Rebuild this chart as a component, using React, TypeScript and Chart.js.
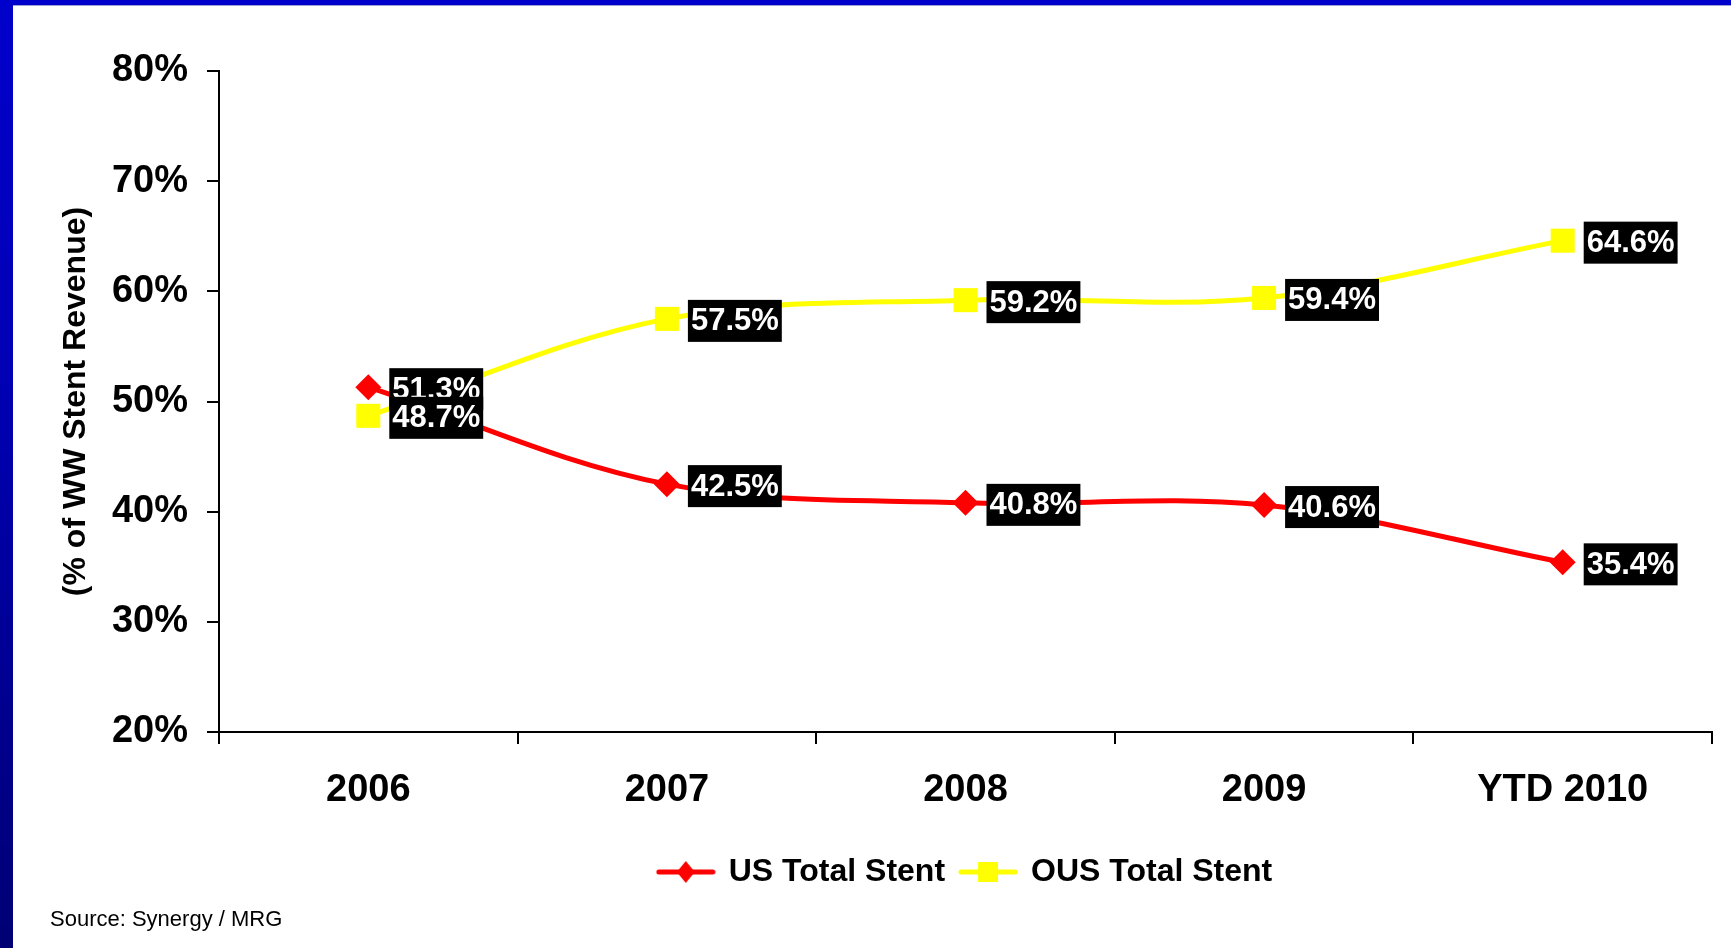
import React, { useEffect, useRef } from 'react';
import { Chart, registerables } from 'chart.js';

Chart.register(...registerables);

const categories = ['2006', '2007', '2008', '2009', 'YTD 2010'];
const usTotalStent = [51.3, 42.5, 40.8, 40.6, 35.4];
const ousTotalStent = [48.7, 57.5, 59.2, 59.4, 64.6];
const seriesNames = ['US Total Stent', 'OUS Total Stent'];
const yMin = 20;
const yMax = 80;
const yStep = 10;
const yAxisTitle = '(% of WW Stent Revenue)';
const sourceText = 'Source: Synergy / MRG';

const FONT = '"Liberation Sans", Arial, Helvetica, sans-serif';
const RED = '#ff0000';
const YELLOW = '#ffff00';

function makeLegendIcon(color: string, shape: 'diamond' | 'square') {
  const c = document.createElement('canvas');
  c.width = 60;
  c.height = 26;
  const g = c.getContext('2d')!;
  g.strokeStyle = color;
  g.lineWidth = 5;
  g.lineCap = 'round';
  g.beginPath();
  g.moveTo(3, 13);
  g.lineTo(57, 13);
  g.stroke();
  g.fillStyle = color;
  if (shape === 'diamond') {
    g.beginPath();
    g.moveTo(30, 2);
    g.lineTo(39, 13);
    g.lineTo(30, 24);
    g.lineTo(21, 13);
    g.closePath();
    g.fill();
  } else {
    g.fillRect(20, 3, 20, 20);
  }
  return c;
}

const valueLabels = {
  id: 'valueLabels',
  afterDatasetsDraw(chart: any) {
    const ctx = chart.ctx;
    ctx.save();
    ctx.font = `bold 31px ${FONT}`;
    ctx.textBaseline = 'middle';
    ctx.textAlign = 'left';
    chart.data.datasets.forEach((ds: any, di: number) => {
      const meta = chart.getDatasetMeta(di);
      meta.data.forEach((pt: any, i: number) => {
        const v = ds.data[i];
        const text = v.toFixed(1) + '%';
        const w = ctx.measureText(text).width;
        const cy = pt.y + 2;
        const bx = pt.x + 21;
        ctx.fillStyle = '#000000';
        ctx.fillRect(bx, cy - 21, w + 6, 42);
        ctx.fillStyle = '#ffffff';
        ctx.fillText(text, bx + 3, cy + 1);
      });
    });
    ctx.restore();
  },
};

export default function App() {
  const canvasRef = useRef<HTMLCanvasElement | null>(null);

  useEffect(() => {
    if (!canvasRef.current) return;
    const icons = [makeLegendIcon(RED, 'diamond'), makeLegendIcon(YELLOW, 'square')];
    const chart = new Chart(canvasRef.current, {
      type: 'line',
      data: {
        labels: categories,
        datasets: [
          {
            label: seriesNames[0],
            data: usTotalStent,
            borderColor: RED,
            backgroundColor: RED,
            borderWidth: 5,
            tension: 0.35,
            pointStyle: 'rectRot',
            pointRadius: 13,
            pointHoverRadius: 13,
            pointBackgroundColor: RED,
            pointBorderColor: RED,
            pointBorderWidth: 0,
            fill: false,
          },
          {
            label: seriesNames[1],
            data: ousTotalStent,
            borderColor: YELLOW,
            backgroundColor: YELLOW,
            borderWidth: 5,
            tension: 0.35,
            pointStyle: 'rect',
            pointRadius: 17,
            pointHoverRadius: 17,
            pointBackgroundColor: YELLOW,
            pointBorderColor: YELLOW,
            pointBorderWidth: 0,
            fill: false,
          },
        ],
      },
      options: {
        responsive: false,
        animation: false,
        devicePixelRatio: 1,
        layout: { padding: { top: 71, right: 19, bottom: 50, left: 0 } },
        plugins: {
          tooltip: { enabled: false },
          legend: {
            position: 'bottom',
            fullSize: false,
            labels: {
              usePointStyle: true,
              pointStyleWidth: 54,
              padding: 16,
              color: '#000000',
              font: { family: FONT, size: 32, weight: 'bold' },
              generateLabels: (ch: any) => {
                const items = (Chart.defaults.plugins.legend.labels as any).generateLabels(ch);
                items.forEach((it: any, i: number) => {
                  it.pointStyle = icons[i];
                  it.lineWidth = 0;
                });
                return items;
              },
            },
          },
        },
        scales: {
          x: {
            offset: true,
            afterFit: (s: any) => {
              s.height = 108;
            },
            grid: {
              offset: true,
              drawOnChartArea: false,
              drawTicks: true,
              tickLength: 12,
              color: '#000000',
              lineWidth: 2,
            },
            border: { display: true, color: '#000000', width: 2 },
            ticks: {
              color: '#000000',
              padding: 24,
              font: { family: FONT, size: 38, weight: 'bold' },
              maxRotation: 0,
              autoSkip: false,
            },
          },
          y: {
            min: yMin,
            max: yMax,
            afterFit: (s: any) => {
              s.width = 219;
            },
            title: {
              display: true,
              text: yAxisTitle,
              color: '#000000',
              font: { family: FONT, size: 32, weight: 'bold' },
              padding: { top: 57, bottom: 0 },
            },
            grid: {
              drawOnChartArea: false,
              drawTicks: true,
              tickLength: 12,
              color: '#000000',
              lineWidth: 2,
            },
            border: { display: true, color: '#000000', width: 2 },
            ticks: {
              stepSize: yStep,
              color: '#000000',
              padding: 19,
              font: { family: FONT, size: 38, weight: 'bold' },
              callback: (v: any) => `${v}%`,
            },
          },
        },
      },
      plugins: [valueLabels],
    } as any);
    return () => chart.destroy();
  }, []);

  return (
    <div
      style={{
        position: 'fixed',
        left: 0,
        top: 0,
        width: 1731,
        height: 948,
        overflow: 'hidden',
        background: 'linear-gradient(180deg, #0000cc 0%, #0000b4 40%, #000074 100%)',
      }}
    >
      <div
        style={{
          position: 'absolute',
          left: 13,
          top: 5,
          right: 0,
          bottom: 0,
          background: '#ffffff',
          borderTop: '1px solid #a0a0d8',
        }}
      />
      <canvas
        ref={canvasRef}
        width={1731}
        height={948}
        style={{ position: 'absolute', left: 0, top: 0, width: 1731, height: 948 }}
      />
      <div
        style={{
          position: 'absolute',
          left: 50,
          top: 906,
          fontFamily: FONT,
          fontSize: 22,
          lineHeight: '25px',
          color: '#000000',
          whiteSpace: 'nowrap',
        }}
      >
        {sourceText}
      </div>
    </div>
  );
}
